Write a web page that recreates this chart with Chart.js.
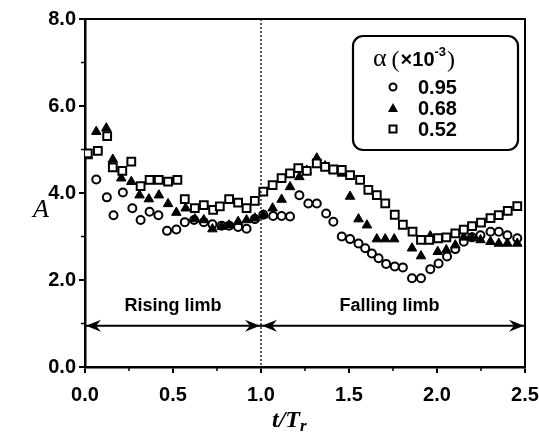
<!DOCTYPE html>
<html>
<head>
<meta charset="utf-8">
<script src="https://cdn.jsdelivr.net/npm/chart.js@4.4.1/dist/chart.umd.min.js"></script>
<style>
  html, body { margin: 0; padding: 0; background: #fff; }
  #wrap { width: 539px; height: 434px; }
</style>
</head>
<body>
<div id="wrap"><canvas id="chart" width="539" height="434"></canvas></div>
<script>
// t/Tr and A values
const alphaLabels = ['0.95', '0.68', '0.52'];
const xTicks = [0, 0.5, 1.0, 1.5, 2.0, 2.5];
const yTicks = [0, 2, 4, 6, 8];

const circleT = [0.064, 0.124, 0.162, 0.215, 0.269, 0.316, 0.367, 0.417, 0.466, 0.519, 0.567, 0.62, 0.675, 0.724, 0.776, 0.819, 0.870, 0.918, 0.965, 1.013,
  1.069, 1.117, 1.165, 1.218, 1.269, 1.317, 1.370, 1.411, 1.459, 1.506, 1.554, 1.592, 1.630, 1.668, 1.711, 1.760, 1.806, 1.858, 1.909, 1.962,
  2.009, 2.057, 2.104, 2.152, 2.199, 2.247, 2.304, 2.351, 2.400, 2.456];
const circleA = [4.31, 3.90, 3.49, 4.01, 3.65, 3.38, 3.57, 3.49, 3.13, 3.16, 3.33, 3.38, 3.33, 3.28, 3.25, 3.25, 3.22, 3.18, 3.40, 3.50,
  3.47, 3.47, 3.46, 3.95, 3.76, 3.76, 3.53, 3.34, 3.00, 2.94, 2.84, 2.73, 2.61, 2.50, 2.37, 2.31, 2.29, 2.04, 2.04, 2.25,
  2.38, 2.54, 2.71, 2.88, 2.98, 3.03, 3.11, 3.11, 3.03, 2.96];

const triT = [0.016, 0.064, 0.121, 0.158, 0.206, 0.263, 0.310, 0.363, 0.420, 0.472, 0.519, 0.572, 0.624, 0.675, 0.724, 0.776, 0.819, 0.870, 0.918, 0.965,
  1.013, 1.066, 1.117, 1.165, 1.218, 1.260, 1.317, 1.364, 1.411, 1.459, 1.506, 1.554, 1.602, 1.658, 1.706, 1.757, 1.858, 1.909, 1.962,
  2.004, 2.053, 2.104, 2.152, 2.199, 2.247, 2.304, 2.351, 2.400, 2.456];
const triA = [4.85, 5.41, 5.49, 4.77, 4.34, 4.26, 3.95, 3.86, 3.95, 3.75, 3.55, 3.65, 3.40, 3.38, 3.17, 3.23, 3.26, 3.34, 3.38, 3.42,
  3.49, 3.65, 3.85, 4.14, 4.37, 4.52, 4.80, 4.62, 4.52, 4.45, 3.92, 3.40, 3.26, 2.94, 2.94, 2.94, 2.73, 2.55, 3.01,
  2.65, 2.69, 2.80, 2.98, 2.97, 2.92, 2.88, 2.84, 2.84, 2.84];

const squareT = [0.016, 0.073, 0.126, 0.158, 0.212, 0.263, 0.316, 0.367, 0.419, 0.472, 0.525, 0.567, 0.624, 0.675, 0.728, 0.766, 0.819, 0.870, 0.918, 0.965,
  1.013, 1.066, 1.117, 1.165, 1.212, 1.260, 1.317, 1.364, 1.411, 1.459, 1.506, 1.563, 1.610, 1.658, 1.706, 1.760, 1.806, 1.861, 1.909, 1.956,
  2.006, 2.053, 2.104, 2.152, 2.199, 2.250, 2.304, 2.351, 2.402, 2.456];
const squareA = [4.91, 4.97, 5.31, 4.59, 4.51, 4.72, 4.16, 4.30, 4.30, 4.26, 4.30, 3.86, 3.65, 3.72, 3.61, 3.69, 3.86, 3.78, 3.65, 3.82,
  4.03, 4.18, 4.34, 4.45, 4.57, 4.51, 4.68, 4.60, 4.54, 4.53, 4.41, 4.30, 4.07, 3.95, 3.76, 3.50, 3.27, 3.11, 2.92, 2.92,
  2.96, 2.98, 3.07, 3.16, 3.24, 3.32, 3.42, 3.49, 3.59, 3.70];

const toPoints = (xs, ys) => xs.map((x, i) => ({ x: x, y: ys[i] }));

const tickFont = { family: "'Liberation Sans', Arial, sans-serif", size: 20, weight: 'bold' };

// frame, minor ticks, limb arrows, labels and the legend box
const decorPlugin = {
    id: 'decorPlugin',
    afterDraw(chart) {
        const { ctx, chartArea, scales } = chart;
        const xs = scales.x, ys = scales.y;
        ctx.save();
        ctx.strokeStyle = '#000';
        ctx.fillStyle = '#000';

        // top and right border
        ctx.lineWidth = 2;
        ctx.beginPath();
        ctx.moveTo(chartArea.left, chartArea.top);
        ctx.lineTo(chartArea.right, chartArea.top);
        ctx.lineTo(chartArea.right, chartArea.bottom);
        ctx.stroke();

        // minor ticks
        ctx.lineWidth = 1.5;
        [0.25, 0.75, 1.25, 1.75, 2.25].forEach(v => {
            const px = xs.getPixelForValue(v);
            ctx.beginPath();
            ctx.moveTo(px, chartArea.bottom);
            ctx.lineTo(px, chartArea.bottom + 4);
            ctx.stroke();
        });
        [1, 3, 5, 7].forEach(v => {
            const py = ys.getPixelForValue(v);
            ctx.beginPath();
            ctx.moveTo(chartArea.left, py);
            ctx.lineTo(chartArea.left - 4, py);
            ctx.stroke();
        });

        // dotted line at t/Tr = 1
        const x1 = xs.getPixelForValue(1.0);
        ctx.lineWidth = 1.3;
        ctx.setLineDash([2, 2]);
        ctx.beginPath();
        ctx.moveTo(x1, chartArea.top);
        ctx.lineTo(x1, chartArea.bottom);
        ctx.stroke();
        ctx.setLineDash([]);

        // arrows
        const ay = ys.getPixelForValue(0.95);
        const x0 = xs.getPixelForValue(0);
        const x25 = xs.getPixelForValue(2.5);
        ctx.lineWidth = 2;
        ctx.beginPath();
        ctx.moveTo(x0, ay); ctx.lineTo(x25, ay);
        ctx.stroke();
        const head = (tipX, dir) => {
            ctx.beginPath();
            ctx.moveTo(tipX, ay);
            ctx.lineTo(tipX + dir * 15, ay - 6);
            ctx.lineTo(tipX + dir * 10, ay);
            ctx.lineTo(tipX + dir * 15, ay + 6);
            ctx.closePath();
            ctx.fill();
        };
        head(x0 + 1, 1);
        head(x1 - 1, -1);
        head(x1 + 1, 1);
        head(x25 - 1, -1);

        ctx.font = "bold 18px 'Liberation Sans', Arial, sans-serif";
        ctx.textAlign = 'center';
        ctx.textBaseline = 'alphabetic';
        ctx.fillText('Rising limb', xs.getPixelForValue(0.5), ys.getPixelForValue(1.29));
        ctx.fillText('Falling limb', xs.getPixelForValue(1.73), ys.getPixelForValue(1.29));

        // axis titles
        ctx.font = "italic 26px 'Liberation Serif', 'DejaVu Serif', serif";
        ctx.fillText('A', 41, 217);
        ctx.font = "italic bold 24px 'Liberation Serif', 'DejaVu Serif', serif";
        ctx.textAlign = 'left';
        ctx.fillText('t/T', 272, 427);
        const w = ctx.measureText('t/T').width;
        ctx.font = "italic bold 17px 'Liberation Serif', 'DejaVu Serif', serif";
        ctx.fillText('r', 272 + w, 431);

        // legend box
        const bx = 353, by = 36, bw = 165, bh = 114, r = 10;
        ctx.lineWidth = 2.2;
        ctx.beginPath();
        ctx.moveTo(bx + r, by);
        ctx.arcTo(bx + bw, by, bx + bw, by + bh, r);
        ctx.arcTo(bx + bw, by + bh, bx, by + bh, r);
        ctx.arcTo(bx, by + bh, bx, by, r);
        ctx.arcTo(bx, by, bx + bw, by, r);
        ctx.closePath();
        ctx.stroke();

        // legend title: alpha (x10^-3)
        ctx.textAlign = 'left';
        let tx = 373;
        ctx.font = "26px 'Liberation Serif', serif";
        ctx.fillText('\u03B1', tx, 66);
        tx += ctx.measureText('\u03B1').width + 5;
        ctx.font = "24px 'Liberation Serif', serif";
        ctx.fillText('(', tx, 67);
        tx += ctx.measureText('(').width + 1;
        ctx.font = "bold 20px 'Liberation Sans', Arial, sans-serif";
        ctx.fillText('\u00D710', tx, 66);
        tx += ctx.measureText('\u00D710').width;
        ctx.font = "bold 13px 'Liberation Sans', Arial, sans-serif";
        ctx.fillText('-3', tx, 56);
        tx += ctx.measureText('-3').width + 1;
        ctx.font = "24px 'Liberation Serif', serif";
        ctx.fillText(')', tx, 67);

        ctx.font = "bold 20px 'Liberation Sans', Arial, sans-serif";
        ctx.textBaseline = 'middle';
        const rowsY = [87, 108, 129];
        alphaLabels.forEach((lab, i) => ctx.fillText(lab, 418, rowsY[i] + 1));
        const mx = 393;
        ctx.lineWidth = 2;
        ctx.beginPath();
        ctx.arc(mx, rowsY[0], 3.5, 0, Math.PI * 2);
        ctx.stroke();
        ctx.beginPath();
        ctx.moveTo(mx, rowsY[1] - 5);
        ctx.lineTo(mx + 5, rowsY[1] + 4);
        ctx.lineTo(mx - 5, rowsY[1] + 4);
        ctx.closePath();
        ctx.fill();
        ctx.strokeRect(mx - 3.5, rowsY[2] - 3.5, 7, 7);

        ctx.restore();
    }
};

new Chart(document.getElementById('chart').getContext('2d'), {
    type: 'scatter',
    data: {
        datasets: [
            {
                label: alphaLabels[0],
                data: toPoints(circleT, circleA),
                pointStyle: 'circle',
                pointRadius: 4,
                borderWidth: 2,
                borderColor: '#000',
                backgroundColor: '#fff',
                order: 2,
            },
            {
                label: alphaLabels[1],
                data: toPoints(triT, triA),
                pointStyle: 'triangle',
                pointRadius: 5.5,
                borderWidth: 1,
                borderColor: '#000',
                backgroundColor: '#000',
                order: 1,
            },
            {
                label: alphaLabels[2],
                data: toPoints(squareT, squareA),
                pointStyle: 'rect',
                pointRadius: 5.5,
                borderWidth: 2,
                borderColor: '#000',
                backgroundColor: '#fff',
                order: 0,
            },
        ]
    },
    options: {
        responsive: false,
        animation: false,
        events: [],
        layout: { padding: { top: 19, right: 14, left: 0, bottom: 0 } },
        plugins: {
            legend: { display: false },
            tooltip: { enabled: false },
        },
        scales: {
            x: {
                type: 'linear',
                min: 0,
                max: 2.5,
                afterBuildTicks: scale => { scale.ticks = xTicks.map(v => ({ value: v })); },
                afterFit: scale => {
                    scale.height = 67;
                    scale.paddingLeft = 0;
                    scale.paddingRight = 0;
                },
                ticks: {
                    color: '#000',
                    font: tickFont,
                    padding: 10,
                    maxRotation: 0,
                    callback: v => v.toFixed(1),
                },
                grid: { drawOnChartArea: false, tickLength: 6, color: '#000', lineWidth: 2 },
                border: { display: true, color: '#000', width: 2.5 },
            },
            y: {
                type: 'linear',
                min: 0,
                max: 8,
                afterBuildTicks: scale => { scale.ticks = yTicks.map(v => ({ value: v })); },
                afterFit: scale => {
                    scale.width = 85;
                    scale.paddingTop = 0;
                    scale.paddingBottom = 0;
                },
                ticks: {
                    color: '#000',
                    font: tickFont,
                    padding: 3,
                    callback: v => v.toFixed(1),
                },
                grid: { drawOnChartArea: false, tickLength: 6, color: '#000', lineWidth: 2 },
                border: { display: true, color: '#000', width: 2.5 },
            },
        },
    },
    plugins: [decorPlugin],
});
</script>
</body>
</html>
